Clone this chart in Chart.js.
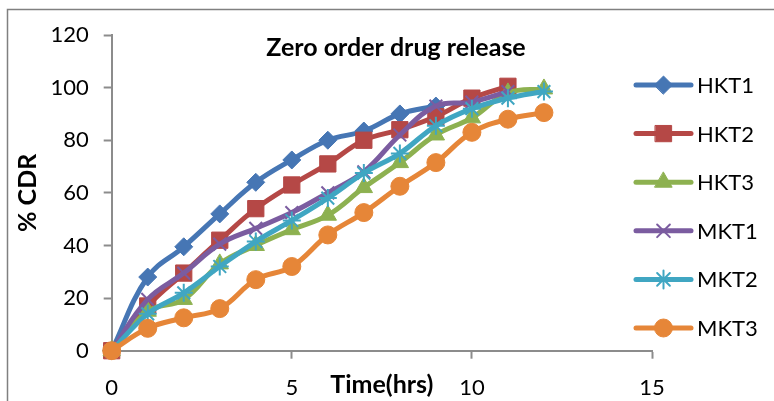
<!DOCTYPE html>
<html>
<head>
<meta charset="utf-8">
<script src="https://cdn.jsdelivr.net/npm/chart.js@4/dist/chart.umd.min.js"></script>
<style>
  html, body { margin: 0; padding: 0; background: #ffffff; }
  #wrap { width: 774px; height: 401px; }
</style>
</head>
<body>
<div id="wrap"><canvas id="release" width="774" height="401"></canvas></div>
<script>
// Time points (hours) and % cumulative drug release per formulation
const hours = [0, 1, 2, 3, 4, 5, 6, 7, 8, 9, 10, 11, 12];
const seriesNames = ['HKT1', 'HKT2', 'HKT3', 'MKT1', 'MKT2', 'MKT3'];
const hkt1 = [0, 28, 39.5, 52, 64, 72.5, 80, 83.5, 90, 93];
const hkt2 = [0, 17, 29.5, 42, 54, 63, 71, 80, 84, 89, 96, 100.5];
const hkt3 = [0, 15, 19.5, 33, 40, 46, 51.5, 62, 71.5, 82, 88.5, 98, 99.5];
const mkt1 = [0, 19.5, 29.5, 40.5, 46.5, 52.5, 60, 68, 82, 93, 94.5, 98.5];
const mkt2 = [0, 14, 22, 32, 41.5, 49.5, 58, 67.5, 75, 85.5, 92, 96, 98.5];
const mkt3 = [0, 8.5, 12.5, 16, 27, 32, 44, 52.5, 62.5, 71.5, 83, 88, 90.5];
const yTicks = [0, 20, 40, 60, 80, 100, 120];
const xTicks = [0, 5, 10, 15];

const seriesValues = [hkt1, hkt2, hkt3, mkt1, mkt2, mkt3];
const colors = ['#4676B4', '#B54846', '#8DB150', '#7B5CA0', '#40A6C2', '#E68638'];
const markers = [
  { style: 'rectRot', radius: 9, border: 1 },
  { style: 'rect', radius: 11.5, border: 1 },
  { style: 'triangle', radius: 10, border: 1 },
  { style: 'crossRot', radius: 9, border: 2 },
  { style: 'star', radius: 9, border: 2 },
  { style: 'circle', radius: 9, border: 1 }
];

const FONT = 'Lato, "Open Sans", "Liberation Sans", sans-serif';
const AXIS_GREY = '#8c8c8c';

const datasets = seriesNames.map((name, i) => ({
  label: name,
  data: seriesValues[i].map((v, k) => ({ x: hours[k], y: v })),
  borderColor: colors[i],
  backgroundColor: colors[i],
  borderWidth: 5,
  tension: 0.4,
  clip: false,
  pointStyle: markers[i].style,
  pointRadius: markers[i].radius,
  pointHoverRadius: markers[i].radius,
  pointBorderWidth: markers[i].border,
  pointBackgroundColor: colors[i],
  pointBorderColor: colors[i],
  order: seriesNames.length - i
}));

// Outer frame, heading and the key on the right-hand side
const decorations = {
  id: 'decorations',
  beforeDraw(chart) {
    const ctx = chart.ctx;
    ctx.save();
    ctx.strokeStyle = '#808080';
    ctx.lineWidth = 1.5;
    ctx.strokeRect(7.5, 9.5, 900, 900);
    ctx.restore();
  },
  afterDraw(chart) {
    const ctx = chart.ctx;
    ctx.save();
    ctx.fillStyle = '#000000';
    ctx.font = 'bold 25px ' + FONT;
    ctx.textAlign = 'center';
    ctx.textBaseline = 'middle';
    ctx.fillText('Zero order drug release', 396, 48);

    const lineStart = 636, lineEnd = 691, textX = 697;
    const firstRow = 85, rowGap = 48.6;
    chart.data.datasets.forEach((ds, i) => {
      const y = firstRow + i * rowGap;
      ctx.strokeStyle = ds.borderColor;
      ctx.lineWidth = 5;
      ctx.lineCap = 'round';
      ctx.beginPath();
      ctx.moveTo(lineStart, y);
      ctx.lineTo(lineEnd, y);
      ctx.stroke();
      ctx.fillStyle = ds.backgroundColor;
      ctx.strokeStyle = ds.borderColor;
      ctx.lineWidth = ds.pointBorderWidth;
      Chart.helpers.drawPoint(ctx, {
        pointStyle: ds.pointStyle,
        radius: ds.pointRadius,
        borderWidth: ds.pointBorderWidth,
        rotation: 0
      }, (lineStart + lineEnd) / 2, y);
      ctx.fillStyle = '#000000';
      ctx.font = '22px ' + FONT;
      ctx.textAlign = 'left';
      ctx.textBaseline = 'middle';
      ctx.fillText(ds.label, textX, y + 1);
    });
    ctx.restore();
  }
};

new Chart(document.getElementById('release'), {
  type: 'line',
  data: { datasets },
  plugins: [decorations],
  options: {
    responsive: false,
    devicePixelRatio: 1,
    animation: false,
    events: [],
    layout: { padding: { left: 0, right: 122, top: 35, bottom: 0 } },
    plugins: {
      legend: { display: false },
      title: { display: false },
      tooltip: { enabled: false }
    },
    scales: {
      x: {
        type: 'linear',
        min: 0,
        max: 15,
        afterBuildTicks(scale) { scale.ticks = xTicks.map(v => ({ value: v })); },
        afterFit(scale) { scale.height = 50.3; },
        ticks: { color: '#000000', font: { family: FONT, size: 22 }, padding: 16, maxRotation: 0 },
        grid: { display: true, drawOnChartArea: false, drawTicks: true, tickLength: 8, tickColor: AXIS_GREY, tickWidth: 2 },
        border: { display: true, color: AXIS_GREY, width: 2 },
        title: { display: true, text: 'Time(hrs)', color: '#000000', font: { family: FONT, size: 25, weight: 'bold' }, padding: { top: 0, bottom: 1 } }
      },
      y: {
        type: 'linear',
        min: 0,
        max: 120,
        afterBuildTicks(scale) { scale.ticks = yTicks.map(v => ({ value: v })); },
        afterFit(scale) { scale.width = 111.7; },
        ticks: { color: '#000000', font: { family: FONT, size: 22 }, padding: 15 },
        grid: { display: true, drawOnChartArea: false, drawTicks: true, tickLength: 8, tickColor: AXIS_GREY, tickWidth: 2 },
        border: { display: true, color: AXIS_GREY, width: 2 },
        title: { display: true, text: '% CDR', color: '#000000', font: { family: FONT, size: 25, weight: 'bold' }, padding: { top: 13, bottom: 0 } }
      }
    }
  }
});
</script>
</body>
</html>
